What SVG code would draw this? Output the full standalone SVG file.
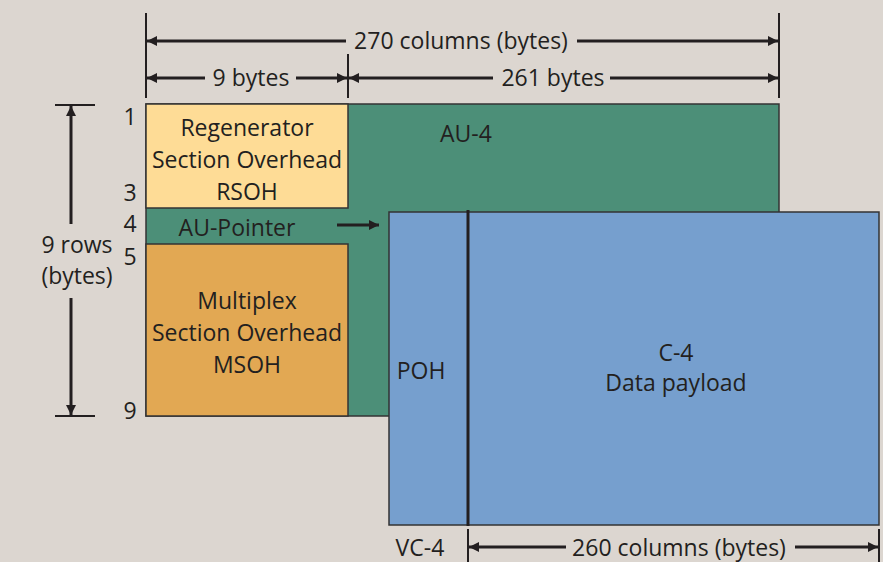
<svg xmlns="http://www.w3.org/2000/svg" width="883" height="562" viewBox="0 0 883 562">
<defs>
<marker id="ah" viewBox="0 0 10 10" refX="10" refY="5" markerWidth="10" markerHeight="10" markerUnits="userSpaceOnUse" orient="auto-start-reverse">
<path d="M0,0 L10,5 L0,10 z" fill="#231f20"/>
</marker>
<style>
text{font-family:"Open Sans","Liberation Sans",sans-serif;font-size:23px;fill:#231f20;text-anchor:middle}
.ln{stroke:#231f20;stroke-width:3;fill:none}
.tk{stroke:#231f20;stroke-width:2;fill:none}
.box{stroke:#333;stroke-width:1.5}
</style>
</defs>
<rect width="883" height="562" fill="#dcd6d0"/>
<g id="au4">
<rect class="box" x="146" y="104" width="633" height="312" fill="#4c8f78"/>
<text x="466" y="142">AU-4</text>
</g>
<g id="rsoh">
<rect class="box" x="146" y="104" width="202" height="104" fill="#fedc96"/>
<text x="247" y="136">Regenerator</text>
<text x="247" y="168">Section Overhead</text>
<text x="247" y="200">RSOH</text>
</g>
<g id="au-pointer">
<text x="237" y="236">AU-Pointer</text>
</g>
<g id="msoh">
<rect class="box" x="146" y="244" width="202" height="172" fill="#e2a853"/>
<text x="247" y="309">Multiplex</text>
<text x="247" y="341">Section Overhead</text>
<text x="247" y="373">MSOH</text>
</g>
<g id="vc4">
<rect class="box" x="389" y="212" width="490" height="313" fill="#769fce"/>
<line x1="468" y1="210" x2="468" y2="526" stroke="#231f20" stroke-width="3"/>
<text x="421" y="379">POH</text>
<text x="676" y="361">C-4</text>
<text x="676" y="391">Data payload</text>
<text x="420" y="556">VC-4</text>
</g>
<g id="labels">
<text x="130" y="125">1</text>
<text x="130" y="201">3</text>
<text x="130" y="232">4</text>
<text x="130" y="265">5</text>
<text x="130" y="419">9</text>
<text x="77" y="253">9 rows</text>
<text x="77" y="284">(bytes)</text>
<text x="461" y="49">270 columns (bytes)</text>
<text x="251" y="86">9 bytes</text>
<text x="553" y="86">261 bytes</text>
<text x="679" y="556">260 columns (bytes)</text>
</g>
<g id="connectors">
<line class="tk" x1="146" y1="13" x2="146" y2="98"/>
<line class="tk" x1="779" y1="13" x2="779" y2="98"/>
<line class="tk" x1="348" y1="54" x2="348" y2="98"/>
<line class="ln" x1="147" y1="41" x2="346" y2="41" marker-start="url(#ah)"/>
<line class="ln" x1="577" y1="41" x2="778" y2="41" marker-end="url(#ah)"/>
<line class="ln" x1="147" y1="78" x2="205" y2="78" marker-start="url(#ah)"/>
<line class="ln" x1="296" y1="78" x2="347" y2="78" marker-end="url(#ah)"/>
<line class="ln" x1="349" y1="78" x2="493" y2="78" marker-start="url(#ah)"/>
<line class="ln" x1="610" y1="78" x2="778" y2="78" marker-end="url(#ah)"/>
<line class="tk" x1="55" y1="105" x2="95" y2="105"/>
<line class="tk" x1="55" y1="416" x2="95" y2="416"/>
<line class="ln" x1="71" y1="106" x2="71" y2="224" marker-start="url(#ah)"/>
<line class="ln" x1="71" y1="298" x2="71" y2="415" marker-end="url(#ah)"/>
<line class="ln" x1="337" y1="225" x2="379" y2="225" marker-end="url(#ah)"/>
<line class="tk" x1="468" y1="529" x2="468" y2="562"/>
<line class="tk" x1="879" y1="529" x2="879" y2="562"/>
<line class="ln" x1="469" y1="547" x2="566" y2="547" marker-start="url(#ah)"/>
<line class="ln" x1="795" y1="547" x2="878" y2="547" marker-end="url(#ah)"/>
</g>
</svg>
